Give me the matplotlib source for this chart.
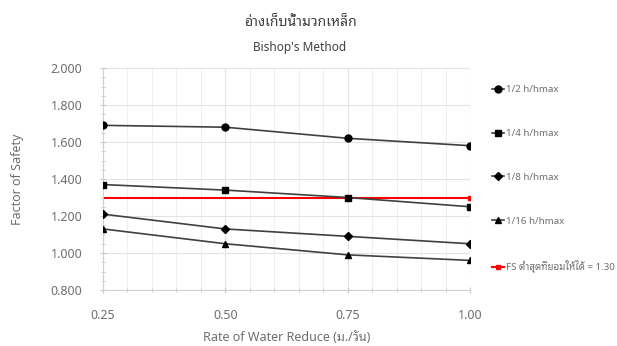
import matplotlib
matplotlib.use("Agg")
import matplotlib.pyplot as plt
from matplotlib.ticker import MultipleLocator, FormatStrFormatter

plt.rcParams['font.family'] = ['Noto Sans', 'Noto Sans Thai Looped', 'DejaVu Sans']

rates = [0.25, 0.50, 0.75, 1.00]
fs_half = [1.69, 1.68, 1.62, 1.58]
fs_quarter = [1.37, 1.34, 1.30, 1.25]
fs_eighth = [1.21, 1.13, 1.09, 1.05]
fs_sixteenth = [1.13, 1.05, 0.99, 0.96]
fs_min = [1.30, 1.30, 1.30, 1.30]

labels = ["1/2 h/hmax", "1/4 h/hmax", "1/8 h/hmax", "1/16 h/hmax", "FS ต่ำสุดที่ยอมให้ได้ = 1.30"]
x_ticks = [0.25, 0.50, 0.75, 1.00]

gray = '#6e6e6e'
fig = plt.figure(figsize=(6.17, 3.46), dpi=100)
ax = fig.add_axes([103/617, 1-290/346, (470-103)/617, (290-68)/346])

lc = '#404040'
h1, = ax.plot(rates, fs_half, color=lc, lw=1.2, marker='o', ms=5, mfc='black', mec='black', zorder=3)
h2, = ax.plot(rates, fs_quarter, color=lc, lw=1.2, marker='s', ms=5, mfc='black', mec='black', zorder=3)
h3, = ax.plot(rates, fs_eighth, color=lc, lw=1.2, marker='D', ms=3.8, mfc='black', mec='black', zorder=3)
h4, = ax.plot(rates, fs_sixteenth, color=lc, lw=1.2, marker='^', ms=5, mfc='black', mec='black', zorder=3)
h5, = ax.plot(rates, fs_min, color='#ff0000', lw=1.5, marker='s', ms=3, markevery=[3], zorder=2)

ax.set_xlim(0.25, 1.00)
ax.set_ylim(0.8, 2.0)
ax.set_xticks(x_ticks)
ax.xaxis.set_minor_locator(MultipleLocator(0.05))
ax.yaxis.set_major_locator(MultipleLocator(0.2))
ax.yaxis.set_minor_locator(MultipleLocator(0.05))
ax.yaxis.set_major_formatter(FormatStrFormatter('%.3f'))
ax.xaxis.set_major_formatter(FormatStrFormatter('%.2f'))

ax.grid(True, which='major', axis='both', color='#e3e3e3', lw=0.8)
ax.grid(True, which='minor', axis='x', color='#efefef', lw=0.7)
for s in ['top', 'right']:
    ax.spines[s].set_visible(False)
for s in ['left', 'bottom']:
    ax.spines[s].set_color('#d0d0d0')
ax.tick_params(which='both', colors='#c8c8c8', labelcolor=gray, labelsize=9)
ax.tick_params(which='major', length=4, direction='inout')
ax.tick_params(which='minor', length=3, direction='inout')
ax.tick_params(axis='x', pad=11.5)
ax.tick_params(axis='y', pad=13)

ax.set_ylabel("Factor of Safety", color=gray, fontsize=9)
ax.yaxis.set_label_coords(-(103-18)/367, 0.5)
ax.set_xlabel("Rate of Water Reduce (ม./วัน)", color=gray, fontsize=9)
ax.xaxis.set_label_coords(0.5, -(337.5-290)/222)
ax.xaxis.label.set_va('center')
ax.yaxis.label.set_va('center')

fig.text(300/617, 1-23/346, "อ่างเก็บน้ำมวกเหล็ก", ha='center', va='center', fontsize=10, color='#404040')
fig.text(300/617, 1-47/346, "Bishop's Method", ha='center', va='center', fontsize=8.5, color='#404040')

leg = fig.legend([h1, h2, h3, h4, h5], labels, loc='upper left',
                 bbox_to_anchor=(488/617, 1-81.5/346), frameon=False,
                 fontsize=7, labelcolor=gray, handlelength=1.2, handletextpad=0.2,
                 labelspacing=3.57, borderaxespad=0)

fig.savefig("out.png", dpi=100)
